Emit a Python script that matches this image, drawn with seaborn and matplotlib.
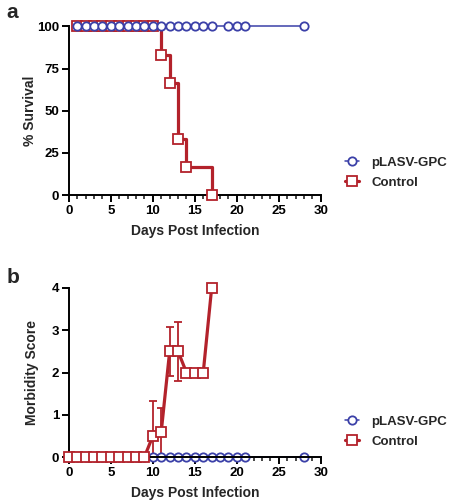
import numpy as np
import pandas as pd
import matplotlib.pyplot as plt
import seaborn as sns
from matplotlib.lines import Line2D
from matplotlib.ticker import MultipleLocator

# Survival data (panel a)
surv_days_vax = list(range(1, 18)) + [19, 20, 21, 28]
surv_vax = [100] * len(surv_days_vax)
surv_days_ctrl = list(range(1, 11)) + [11, 12, 13, 14, 17]
surv_ctrl = [100] * 10 + [83.3, 66.7, 33.3, 16.7, 0]

# Morbidity data (panel b)
morb_days_vax = list(range(0, 22)) + [28]
morb_vax = [0] * len(morb_days_vax)
morb_days_ctrl = list(range(0, 18))
morb_ctrl = [0] * 10 + [0.5, 0.6, 2.5, 2.5, 2.0, 2.0, 2.0, 4.0]
morb_err_ctrl = [0] * 10 + [0.83, 0.55, 0.58, 0.7, 0, 0, 0, 0]

blue = "#3b40a8"
red = "#b3222b"

sns.set_style("ticks")
plt.rcParams['font.family'] = ['Liberation Sans', 'DejaVu Sans']
plt.rcParams['font.weight'] = 'bold'

fig = plt.figure(figsize=(4.5, 5), dpi=100)
ax1 = fig.add_axes([0.153, 0.61, 0.56, 0.337])
ax2 = fig.add_axes([0.153, 0.086, 0.56, 0.338])

# Panel a
ctrl_a = pd.DataFrame({"day": surv_days_ctrl, "val": surv_ctrl})
vax_a = pd.DataFrame({"day": surv_days_vax, "val": surv_vax})
sns.lineplot(data=ctrl_a, x="day", y="val", ax=ax1, color=red, lw=2.3,
             drawstyle="steps-post", marker="s", ms=6.5, mfc="white",
             mec=red, mew=1.3, clip_on=False, zorder=3)
sns.lineplot(data=vax_a, x="day", y="val", ax=ax1, color=blue, lw=1.1,
             marker="o", ms=6, mfc="white", mec=blue, mew=1.3,
             clip_on=False, zorder=4)
ax1.set_xlim(0, 30)
ax1.set_ylim(0, 100)
ax1.set_yticks([0, 25, 50, 75, 100])
ax1.set_xticks([0, 5, 10, 15, 20, 25, 30])
ax1.xaxis.set_minor_locator(MultipleLocator(1))
ax1.set_ylabel("% Survival", fontsize=10, fontweight='bold', labelpad=0)
ax1.set_xlabel("Days Post Infection", fontsize=10, fontweight='bold', labelpad=5)

# Panel b
ctrl_b = pd.DataFrame({"day": morb_days_ctrl, "val": morb_ctrl})
vax_b = pd.DataFrame({"day": morb_days_vax, "val": morb_vax})
ax2.errorbar(morb_days_ctrl, morb_ctrl, yerr=morb_err_ctrl, fmt="none",
             ecolor=red, elinewidth=1.3, capsize=3, capthick=1.3, zorder=2)
sns.lineplot(data=ctrl_b, x="day", y="val", ax=ax2, color=red, lw=2.3,
             marker="s", ms=6.5, mfc="white", mec=red, mew=1.3,
             clip_on=False, zorder=3)
sns.lineplot(data=vax_b, x="day", y="val", ax=ax2, color=blue, lw=1.1,
             marker="o", ms=6, mfc="white", mec=blue, mew=1.3,
             clip_on=False, zorder=2.5)
ax2.set_xlim(0, 30)
ax2.set_ylim(0, 4)
ax2.set_yticks([0, 1, 2, 3, 4])
ax2.set_xticks([0, 5, 10, 15, 20, 25, 30])
ax2.xaxis.set_minor_locator(MultipleLocator(1))
ax2.set_ylabel("Morbidity Score", fontsize=10, fontweight='bold', labelpad=9)
ax2.set_xlabel("Days Post Infection", fontsize=10, fontweight='bold', labelpad=5)

for ax in (ax1, ax2):
    sns.despine(ax=ax)
    for s in ("left", "bottom"):
        ax.spines[s].set_linewidth(1.4)
        ax.spines[s].set_color("black")
    ax.tick_params(axis="both", which="major", length=5, width=1.4,
                   labelsize=9.5, colors="black", pad=2)
    ax.tick_params(axis="x", which="minor", length=3, width=1.2)
    for lab in ax.get_xticklabels() + ax.get_yticklabels():
        lab.set_fontweight("bold")

handles = [
    Line2D([], [], color=blue, lw=1.1, marker="o", ms=6, mfc="white", mec=blue, mew=1.3),
    Line2D([], [], color=red, lw=2.3, marker="s", ms=6.5, mfc="white", mec=red, mew=1.3),
]
labels = ["pLASV-GPC", "Control"]
for ax, yc in ((ax1, 0.655), (ax2, 0.137)):
    ax.legend(handles, labels, loc="center left", bbox_to_anchor=(0.74, yc),
              bbox_transform=fig.transFigure, frameon=False,
              prop={"weight": "bold", "size": 9.5}, handlelength=1.1,
              handletextpad=0.9, labelspacing=0.6)

fig.text(0.015, 0.975, "a", fontsize=15, fontweight="bold", va="center")
fig.text(0.015, 0.445, "b", fontsize=15, fontweight="bold", va="center")

fig.savefig("out.png", dpi=100)
